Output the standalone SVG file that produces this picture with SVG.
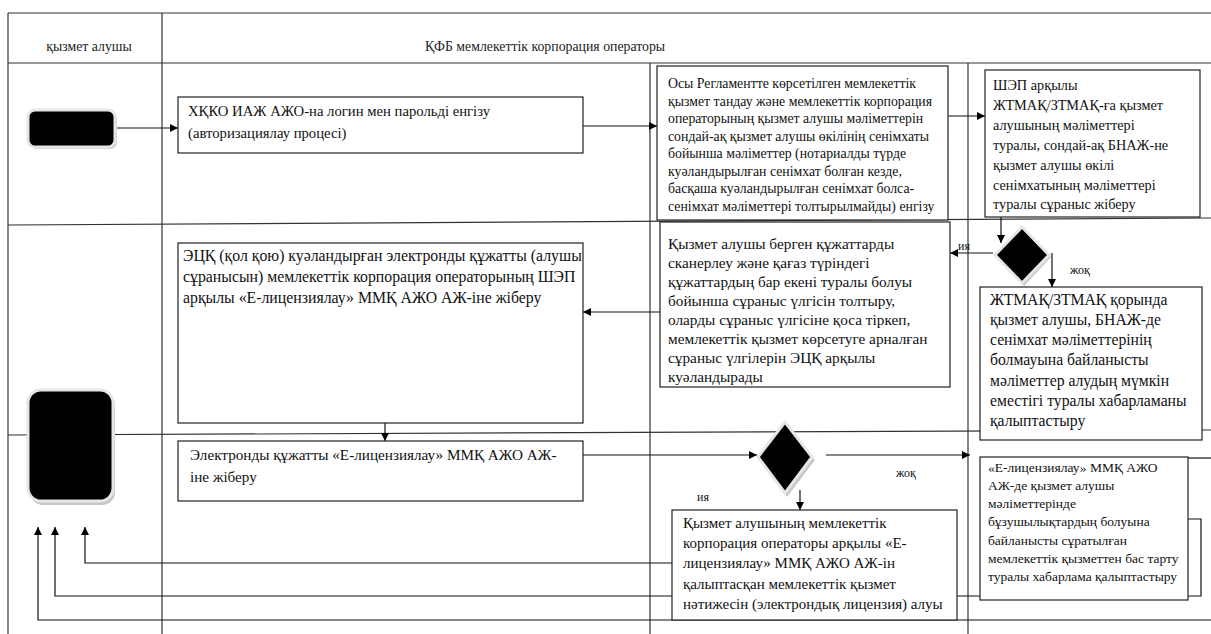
<svg xmlns="http://www.w3.org/2000/svg" width="1211" height="634" viewBox="0 0 1211 634">
<style>
.lane{stroke:#333;stroke-width:1.2;fill:none}
.box{fill:#fff;stroke:#222;stroke-width:1.2}
text{font-family:'Liberation Serif','DejaVu Serif',serif;fill:#111}
.hd{font-size:13.8px;fill:#222}
.c{stroke:#111;stroke-width:1.2;fill:none}
.lbl{font-size:12px}
</style>
<defs>
<marker id="ah" viewBox="0 0 10 10" refX="10" refY="5" markerWidth="8" markerHeight="8" markerUnits="userSpaceOnUse" orient="auto">
<path d="M0,0 L10,5 L0,10 z" fill="#000"/>
</marker>
</defs>
<rect width="1211" height="634" fill="#fff"/>
<g id="lanes">
<line class="lane" x1="8" y1="13" x2="1211" y2="13"/>
<line class="lane" x1="8" y1="63" x2="1211" y2="63"/>
<line class="lane" x1="8" y1="225" x2="1211" y2="218"/>
<line class="lane" x1="8" y1="435" x2="1211" y2="430"/>
<line class="lane" x1="8" y1="13" x2="8" y2="634"/>
<line class="lane" x1="162" y1="13" x2="162" y2="634"/>
<line class="lane" x1="650" y1="63" x2="650" y2="634"/>
<line class="lane" x1="968" y1="63" x2="968" y2="634"/>
<text class="hd" font-family="Liberation Serif, serif" x="89" y="51" text-anchor="middle">қызмет алушы</text>
<text class="hd" font-family="Liberation Serif, serif" x="545" y="51" text-anchor="middle">ҚФБ мемлекеттік корпорация операторы</text>
</g>
<g id="connectors">
<line class="c" x1="116" y1="128" x2="178" y2="128" marker-end="url(#ah)"/>
<line class="c" x1="583" y1="126" x2="657" y2="126" marker-end="url(#ah)"/>
<line class="c" x1="948" y1="116" x2="985" y2="116" marker-end="url(#ah)"/>
<line class="c" x1="1001" y1="217" x2="1001" y2="243" marker-end="url(#ah)"/>
<line class="c" x1="993" y1="253" x2="950" y2="253" marker-end="url(#ah)"/>
<line class="c" x1="1052" y1="253" x2="1052" y2="287" marker-end="url(#ah)"/>
<line class="c" x1="660" y1="312" x2="583" y2="312" marker-end="url(#ah)"/>
<line class="c" x1="385" y1="423" x2="385" y2="441" marker-end="url(#ah)"/>
<line class="c" x1="583" y1="455" x2="757" y2="455" marker-end="url(#ah)"/>
<line class="c" x1="826" y1="455" x2="970" y2="455" marker-end="url(#ah)"/>
<line class="c" x1="800" y1="490" x2="800" y2="510" marker-end="url(#ah)"/>
<polyline class="c" points="672,563 85,563 85,527" marker-end="url(#ah)"/>
<polyline class="c" points="1188,519 1201,519 1201,596 55,596 55,527" marker-end="url(#ah)"/>
<polyline class="c" points="1211,620 38,620 38,527" marker-end="url(#ah)"/>
<line class="c" x1="1188" y1="458" x2="1211" y2="458"/>
<text class="lbl" font-family="Liberation Serif, serif" x="958" y="250">ия</text>
<text class="lbl" font-family="Liberation Serif, serif" x="1070" y="274">жоқ</text>
<text class="lbl" font-family="Liberation Serif, serif" x="896" y="477">жоқ</text>
<text class="lbl" font-family="Liberation Serif, serif" x="697" y="501">ия</text>
</g>
<g id="start">
<rect x="30" y="112" width="87" height="37" rx="7" fill="#c8c8c8"/>
<rect x="28" y="110" width="87" height="37" rx="7" fill="#000" stroke="#e6e6e6" stroke-width="3"/>
</g>
<g id="end">
<rect x="30" y="392" width="85" height="113" rx="13" fill="#c8c8c8"/>
<rect x="28" y="390" width="85" height="111" rx="13" fill="#000" stroke="#e6e6e6" stroke-width="3"/>
</g>
<g id="d1">
<path d="M1024,230 L1051,257 L1024,286 L997,257 z" fill="#c8c8c8"/>
<path d="M1022,227 L1049,255 L1022,283 L995,255 z" fill="#000" stroke="#e6e6e6" stroke-width="3"/>
</g>
<g id="d2">
<path d="M787,425 L815,460 L787,497 L760,460 z" fill="#c8c8c8"/>
<path d="M785,422 L812,457 L785,493 L758,457 z" fill="#000" stroke="#e6e6e6" stroke-width="3"/>
</g>
<g id="b1">
<rect class="box" x="178" y="97" width="405" height="56"/>
<text font-family="Liberation Serif, serif" font-size="14.7"><tspan x="188" y="116">ХҚКО ИАЖ АЖО-на логин мен парольді енгізу</tspan><tspan x="188" y="138">(авторизациялау процесі)</tspan></text>
</g>
<g id="b2">
<rect class="box" x="657" y="66" width="291" height="154"/>
<text font-family="Liberation Serif, serif" font-size="13.8"><tspan x="668" y="88">Осы Регламентте көрсетілген мемлекеттік</tspan><tspan x="668" y="105.5">қызмет  тандау және мемлекеттік корпорация</tspan><tspan x="668" y="123">операторының қызмет алушы  мәліметтерін</tspan><tspan x="668" y="140.5">сондай-ақ қызмет алушы өкілінің сенімхаты</tspan><tspan x="668" y="158">бойынша мәліметтер (нотариалды  түрде</tspan><tspan x="668" y="175.5">куәландырылған сенімхат болған кезде,</tspan><tspan x="668" y="193">басқаша куәландырылған сенімхат болса-</tspan><tspan x="668" y="210.5">сенімхат мәліметтері толтырылмайды) енгізу</tspan></text>
</g>
<g id="b3">
<rect class="box" x="985" y="70" width="215" height="147"/>
<text font-family="Liberation Serif, serif" font-size="14.3"><tspan x="993" y="90">ШЭП арқылы</tspan><tspan x="993" y="110">ЖТМАҚ/ЗТМАҚ-ға қызмет</tspan><tspan x="993" y="130">алушының  мәліметтері</tspan><tspan x="993" y="150">туралы, сондай-ақ БНАЖ-не</tspan><tspan x="993" y="170">қызмет алушы өкілі</tspan><tspan x="993" y="190">сенімхатының мәліметтері</tspan><tspan x="993" y="209">туралы сұраныс жіберу</tspan></text>
</g>
<g id="b4">
<rect class="box" x="660" y="222" width="290" height="165"/>
<text font-family="Liberation Serif, serif" font-size="15.3"><tspan x="668" y="249">Қызмет алушы берген құжаттарды</tspan><tspan x="668" y="268">сканерлеу және қағаз түріндегі</tspan><tspan x="668" y="287">құжаттардың бар екені туралы болуы</tspan><tspan x="668" y="306">бойынша сұраныс үлгісін толтыру,</tspan><tspan x="668" y="325">оларды сұраныс үлгісіне қоса тіркеп,</tspan><tspan x="668" y="344">мемлекеттік қызмет көрсетуге арналған</tspan><tspan x="668" y="363">сұраныс үлгілерін ЭЦҚ арқылы</tspan><tspan x="668" y="382">куәландырады</tspan></text>
</g>
<g id="b5">
<rect class="box" x="980" y="287" width="222" height="153"/>
<text font-family="Liberation Serif, serif" font-size="15.7"><tspan x="990" y="305">ЖТМАҚ/ЗТМАҚ қорында</tspan><tspan x="990" y="325">қызмет алушы, БНАЖ-де</tspan><tspan x="990" y="345">сенімхат мәліметтерінің</tspan><tspan x="990" y="365">болмауына байланысты</tspan><tspan x="990" y="386">мәліметтер алудың мүмкін</tspan><tspan x="990" y="406">еместігі туралы хабарламаны</tspan><tspan x="990" y="426">қалыптастыру</tspan></text>
</g>
<g id="b6">
<rect class="box" x="178" y="243" width="405" height="180"/>
<text font-family="Liberation Serif, serif" font-size="15.8"><tspan x="183" y="261">ЭЦҚ (қол қою) куәландырған электронды құжатты (алушы</tspan><tspan x="183" y="282">сұранысын) мемлекеттік корпорация операторының ШЭП</tspan><tspan x="183" y="303">арқылы «Е-лицензиялау» ММҚ АЖО АЖ-іне жіберу</tspan></text>
</g>
<g id="b7">
<rect class="box" x="178" y="441" width="405" height="60"/>
<text font-family="Liberation Serif, serif" font-size="15.2"><tspan x="190" y="460">Электронды құжатты «Е-лицензиялау» ММҚ АЖО АЖ-</tspan><tspan x="190" y="482">іне жіберу</tspan></text>
</g>
<g id="b8">
<rect class="box" x="980" y="457" width="208" height="143"/>
<text font-family="Liberation Serif, serif" font-size="13.5"><tspan x="988" y="472">«Е-лицензиялау»  ММҚ АЖО</tspan><tspan x="988" y="490">АЖ-де қызмет алушы</tspan><tspan x="988" y="508">мәліметтерінде</tspan><tspan x="988" y="526">бұзушылықтардың болуына</tspan><tspan x="988" y="545">байланысты сұратылған</tspan><tspan x="988" y="563">мемлекеттік қызметтен бас тарту</tspan><tspan x="988" y="581">туралы хабарлама қалыптастыру</tspan></text>
</g>
<g id="b9">
<rect class="box" x="672" y="510" width="285" height="110"/>
<text font-family="Liberation Serif, serif" font-size="15"><tspan x="683" y="528">Қызмет алушының мемлекеттік</tspan><tspan x="683" y="548">корпорация операторы арқылы «Е-</tspan><tspan x="683" y="568">лицензиялау»  ММҚ АЖО АЖ-ін</tspan><tspan x="683" y="589">қалыптасқан мемлекеттік қызмет</tspan><tspan x="683" y="609">нәтижесін (электрондық лицензия) алуы</tspan></text>
</g>
</svg>
